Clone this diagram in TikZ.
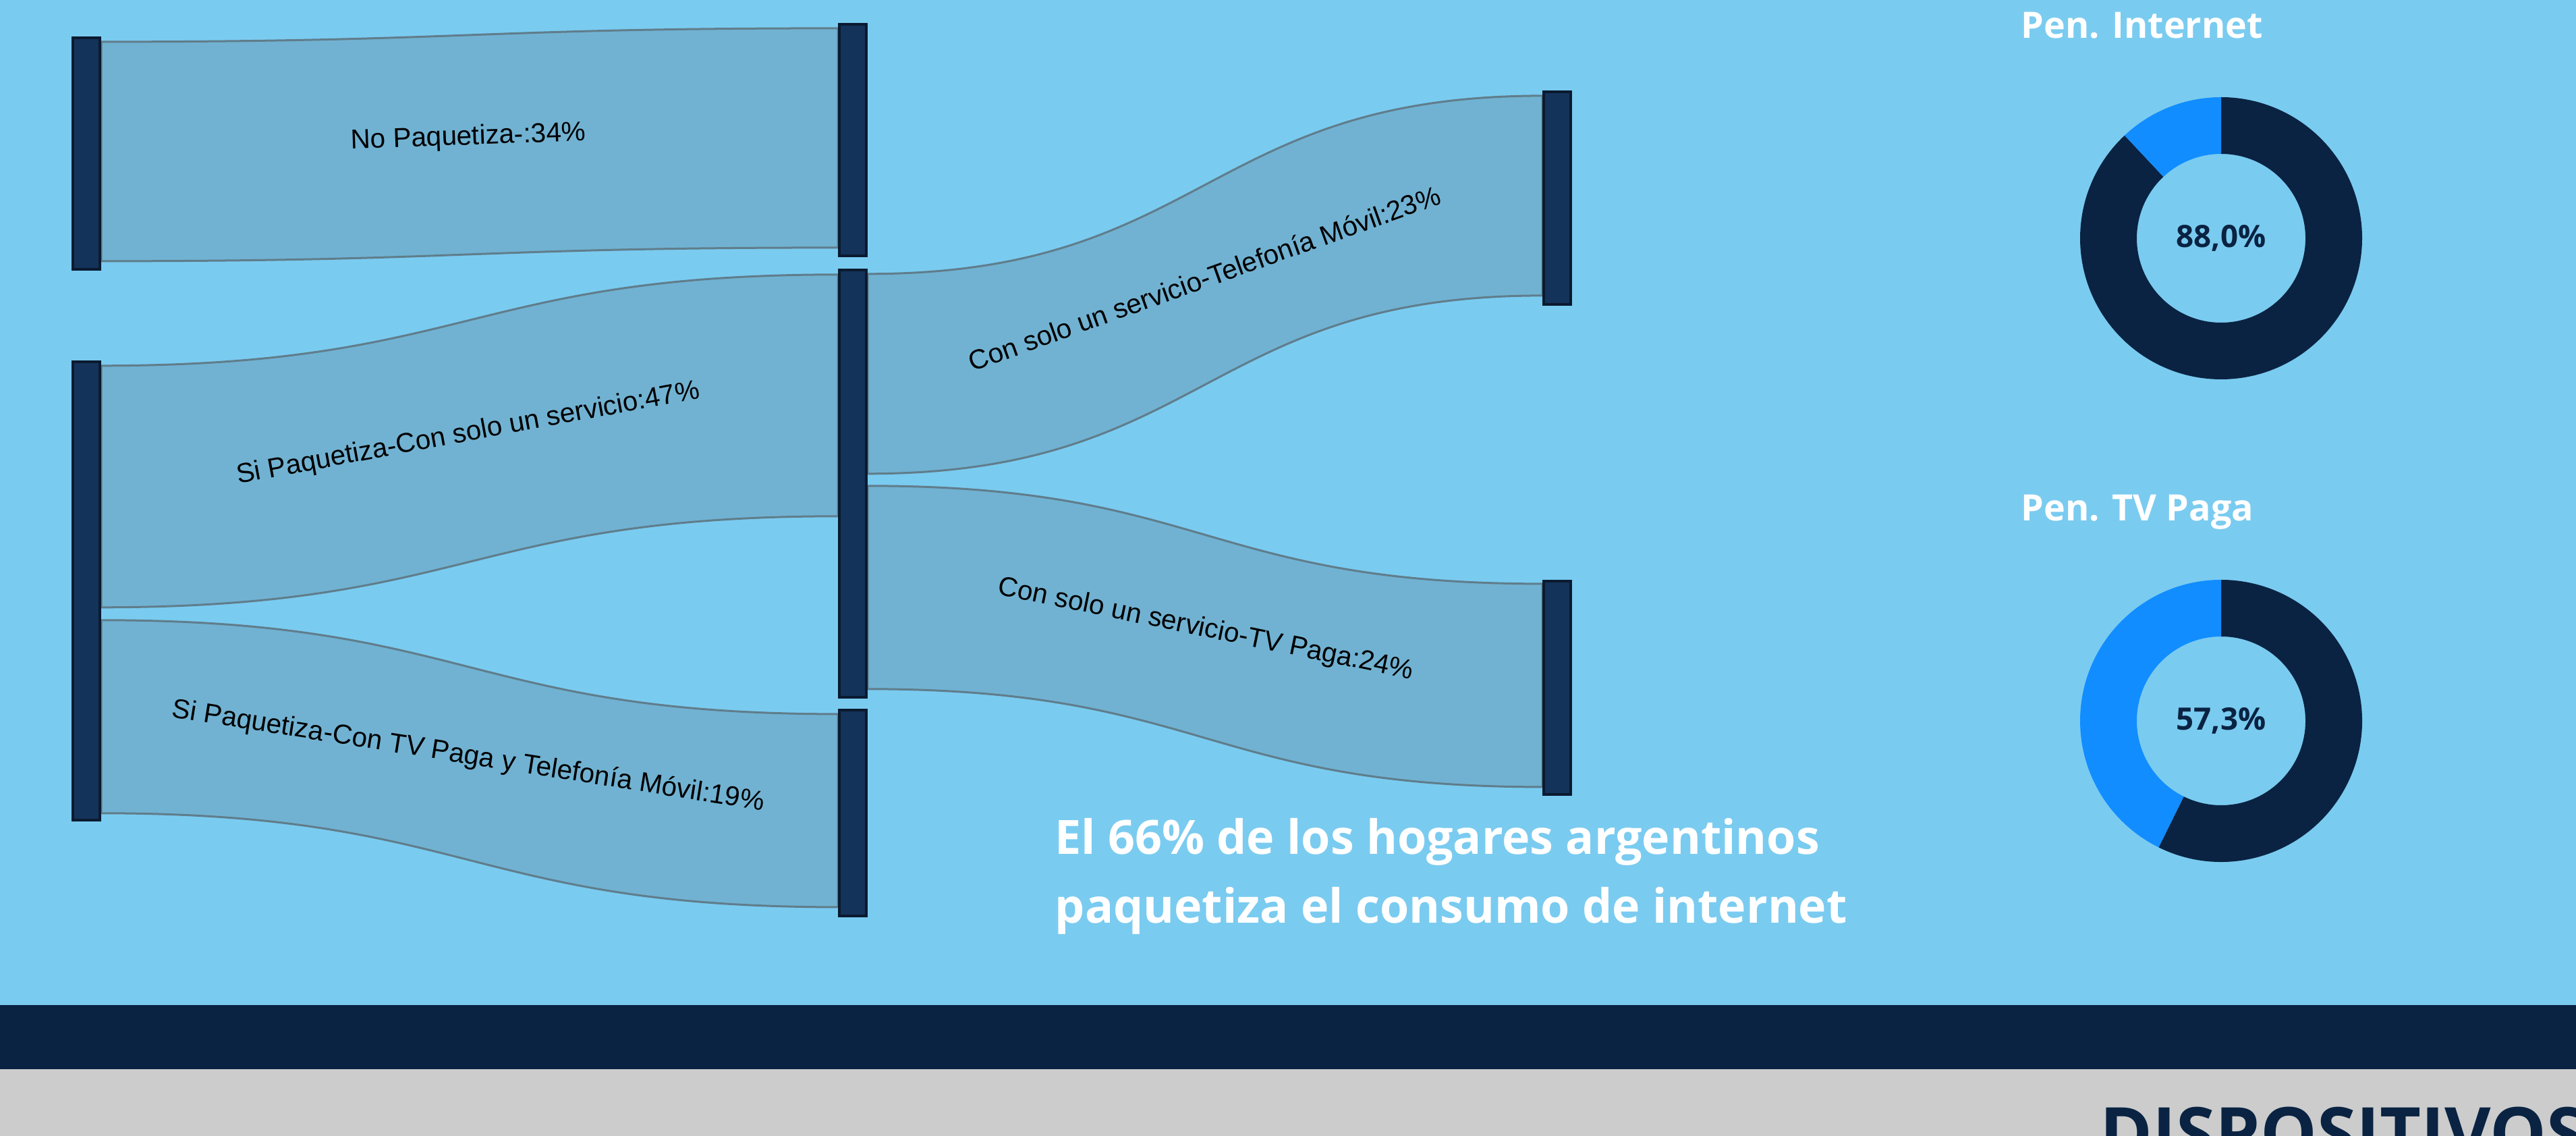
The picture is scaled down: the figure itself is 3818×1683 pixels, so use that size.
\documentclass[tikz,border=0pt]{standalone}
\usepackage{fontspec}
\setmainfont{Liberation Sans}
\newfontfamily\headfont{Open Sans}
\usetikzlibrary{calc}

\definecolor{skyback}{HTML}{7ACBF0}
\definecolor{flowfill}{HTML}{71B2D2}
\definecolor{flowline}{HTML}{607D8B}
\definecolor{barfill}{HTML}{14335A}
\definecolor{barline}{HTML}{0A1A30}
\definecolor{navy}{HTML}{0A2342}
\definecolor{ringblue}{HTML}{118DFF}
\definecolor{footgrey}{HTML}{CCCCCC}

\pgfdeclarelayer{back}
\pgfdeclarelayer{flows}
\pgfsetlayers{back,flows,main}

\tikzset{
  bar/.style={draw=barline, fill=barfill, line width=0.04cm, minimum width=0.40cm, inner sep=0pt},
  flow/.style={fill=flowfill, draw=flowline, line width=0.03cm},
  flowlabel/.style={font=\fontsize{11.5}{13}\selectfont, text=black, inner sep=0pt},
  headtitle/.style={font=\headfont\bfseries\fontsize{15.3}{18}\selectfont, text=white, inner sep=0pt, anchor=base west},
  pct/.style={font=\headfont\bfseries\fontsize{13}{15}\selectfont, text=navy, inner sep=0pt},
  message/.style={font=\headfont\bfseries\fontsize{19.9}{24}\selectfont, text=white, inner sep=0pt, anchor=base west}
}

\begin{document}
\begin{tikzpicture}[x=0.01cm, y=0.01cm]
    \useasboundingbox (0,0) rectangle (3818,-1683);
    \clip (0,0) rectangle (3818,-1683);

    \begin{pgfonlayer}{back}
        \fill[skyback] (0,0) rectangle (3818,-1489);
        \fill[navy] (0,-1489) rectangle (3818,-1584);
        \fill[footgrey] (0,-1584) rectangle (3818,-1683);
    \end{pgfonlayer}

    % sankey bars
    \node[bar, minimum height=3.43cm] (noPaq) at (128,-227.5) {};
    \node[bar, minimum height=6.79cm] (siPaq) at (128,-875.5) {};
    \node[bar, minimum height=3.43cm] (noPaqEnd) at (1264,-207.5) {};
    \node[bar, minimum height=6.33cm] (soloUno) at (1264,-716.5) {};
    \node[bar, minimum height=3.05cm] (tvMovil) at (1264,-1204.5) {};
    \node[bar, minimum height=3.15cm] (movil) at (2308,-293.5) {};
    \node[bar, minimum height=3.16cm] (tvPaga) at (2308,-1019) {};

    % flows
    \coordinate (f1s) at ($(noPaq.north east)+(0,-8)$);
    \coordinate (f1t) at ($(noPaqEnd.north west)+(0,-8)$);
    \coordinate (f2s) at ($(siPaq.north east)+(0,-8)$);
    \coordinate (f2t) at ($(soloUno.north west)+(0,-9)$);
    \coordinate (f3s) at ($(siPaq.north east)+(0,-385)$);
    \coordinate (f3t) at ($(tvMovil.north west)+(0,-8)$);
    \coordinate (f4s) at ($(soloUno.north east)+(0,-8)$);
    \coordinate (f4t) at ($(movil.north west)+(0,-8)$);
    \coordinate (f5s) at ($(soloUno.north east)+(0,-322)$);
    \coordinate (f5t) at ($(tvPaga.north west)+(0,-6)$);

    \begin{pgfonlayer}{flows}
        \draw[flow] (f1s) .. controls +(546,0) and +(-546,0) .. (f1t) -- ++(0,-325)
            .. controls +(-546,0) and +(546,0) .. ($(f1s)+(0,-325)$) -- cycle;
        \draw[flow] (f2s) .. controls +(546,0) and +(-546,0) .. (f2t) -- ++(0,-358)
            .. controls +(-546,0) and +(546,0) .. ($(f2s)+(0,-358)$) -- cycle;
        \draw[flow] (f3s) .. controls +(546,0) and +(-546,0) .. (f3t) -- ++(0,-286)
            .. controls +(-546,0) and +(546,0) .. ($(f3s)+(0,-286)$) -- cycle;
        \draw[flow] (f4s) .. controls +(500,0) and +(-500,0) .. (f4t) -- ++(0,-296)
            .. controls +(-500,0) and +(500,0) .. ($(f4s)+(0,-296)$) -- cycle;
        \draw[flow] (f5s) .. controls +(500,0) and +(-500,0) .. (f5t) -- ++(0,-301)
            .. controls +(-500,0) and +(500,0) .. ($(f5s)+(0,-301)$) -- cycle;
    \end{pgfonlayer}

    % flow labels
    \node[flowlabel, rotate=2] (lblNoPaq) at (694,-204) {No Paquetiza-:34\%};
    \node[flowlabel, rotate=10.5] (lblSolo) at (694,-643) {Si Paquetiza-Con solo un servicio:47\%};
    \node[flowlabel, rotate=-9] (lblTvMovil) at (694,-1121) {Si Paquetiza-Con TV Paga y Telefonía Móvil:19\%};
    \node[flowlabel, rotate=19.7] (lblMovil) at (1785,-412) {Con solo un servicio-Telefonía Móvil:23\%};
    \node[flowlabel, rotate=-11.6] (lblTvPaga) at (1787,-933) {Con solo un servicio-TV Paga:24\%};

    % message
    \node[message] (msgA) at (1563,-1265) {El 66\% de los hogares argentinos};
    \node[message] (msgB) at (1563,-1367) {paquetiza el consumo de internet};

    % donuts
    \coordinate (inetc) at (3292,-353);
    \fill[navy] ($(inetc)+(133.2:209)$) arc[start angle=133.2, end angle=450, radius=209]
        -- ($(inetc)+(90:125)$) arc[start angle=90, end angle=-226.8, radius=125] -- cycle;
    \fill[ringblue] ($(inetc)+(90:209)$) arc[start angle=90, end angle=133.2, radius=209]
        -- ($(inetc)+(133.2:125)$) arc[start angle=133.2, end angle=90, radius=125] -- cycle;
    \node[headtitle] (inetTitle) at (2995,-57) {Pen. Internet};
    \node[pct] (inetPct) at (inetc) {88,0\%};

    \coordinate (tvc) at (3292,-1068);
    \fill[navy] ($(tvc)+(243.7:209)$) arc[start angle=243.7, end angle=450, radius=209]
        -- ($(tvc)+(90:125)$) arc[start angle=90, end angle=-116.3, radius=125] -- cycle;
    \fill[ringblue] ($(tvc)+(90:209)$) arc[start angle=90, end angle=243.7, radius=209]
        -- ($(tvc)+(243.7:125)$) arc[start angle=243.7, end angle=90, radius=125] -- cycle;
    \node[headtitle] (tvTitle) at (2995,-772) {Pen. TV Paga};
    \node[pct] (tvPct) at (tvc) {57,3\%};

    % footer
    \node[font=\headfont\bfseries\fontsize{30}{34}\selectfont, text=navy, inner sep=0pt, anchor=base west] (devices) at (3112,-1716) {DISPOSITIVOS};
\end{tikzpicture}
\end{document}
